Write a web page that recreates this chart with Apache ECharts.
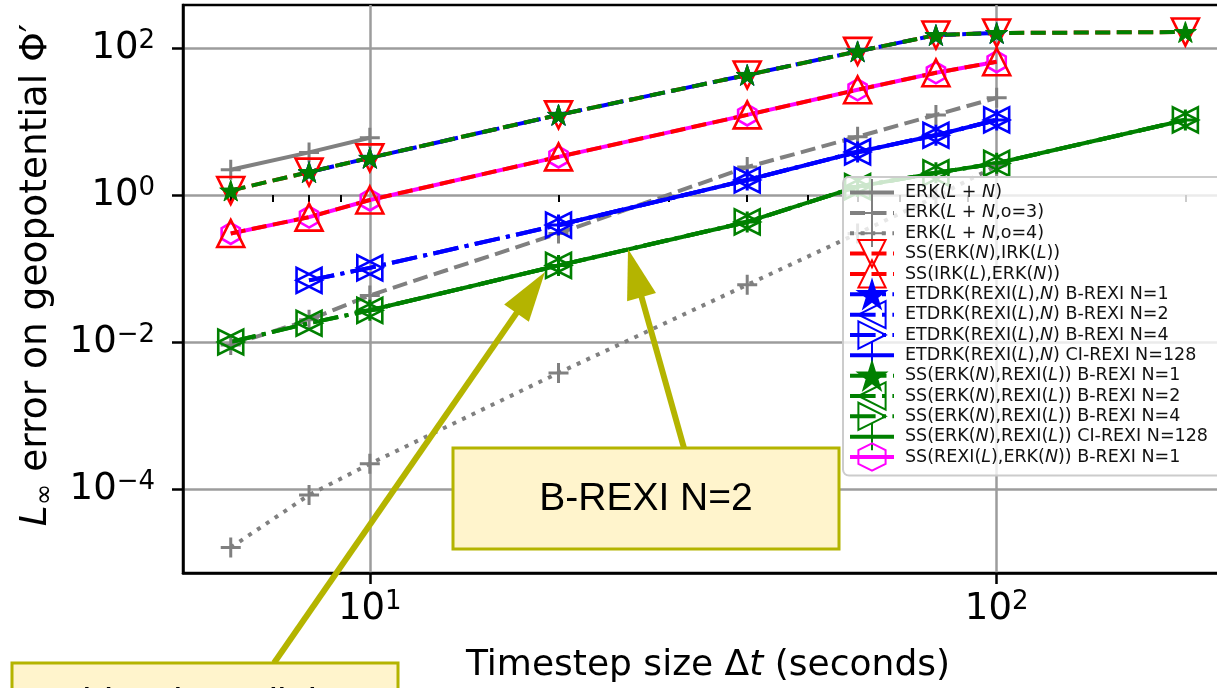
<!DOCTYPE html>
<html>
<head>
<meta charset="utf-8">
<script src="https://cdn.jsdelivr.net/npm/echarts@6/dist/echarts.min.js"></script>
<style>
  html, body { margin: 0; padding: 0; background: #ffffff; overflow: hidden; }
  #chart { width: 1217px; height: 688px; }
</style>
</head>
<body>
<div id="chart"></div>
<script>
// ---- Timestep sizes (seconds) ----
const dtErk      = [6, 8, 10];
const dtTo100    = [6, 8, 10, 20, 40, 60, 80, 100];
const dtAll      = [6, 8, 10, 20, 40, 60, 80, 100, 200];
const dtEtdrk    = [8, 10, 20, 40, 60, 80, 100];
const dtEtdrkCi  = [20, 40, 60, 80, 100];
const dtSsCi     = [10, 20, 40, 60, 80, 100, 200];

// ---- L_inf errors on geopotential ----
const errErk          = [2.2, 3.8, 6.0];
const errErkO3        = [0.0091, 0.020, 0.043, 0.30, 2.4, 6.2, 12.3, 21];
const errErkO4        = [1.6e-5, 8.3e-5, 2.2e-4, 3.8e-3, 0.060, 0.30, 0.95, 2.5];
const errSsErkIrk     = [1.15, 2.05, 3.2, 12.3, 43, 90, 150, 160, 165];
const errSsIrkErk     = [0.30, 0.50, 0.855, 3.3, 12.3, 27, 46, 65];
const errEtdrkN1      = [2.05, 3.2, 12.3, 43, 90, 150, 160];
const errEtdrkN2      = [0.069, 0.102, 0.39, 1.6, 3.85, 6.5, 10.5];
const errEtdrkN4      = [0.069, 0.102, 0.39, 1.6, 3.85, 6.5, 10.5];
const errEtdrkCi      = [0.39, 1.6, 3.85, 6.5, 10.5];
const errSsRexiN1     = [1.15, 2.05, 3.2, 12.3, 43, 90, 150, 160, 165];
const errSsRexiN2     = [0.0100, 0.018, 0.027, 0.11, 0.43, 1.3, 2.0, 2.7, 10.5];
const errSsRexiN4     = [0.0100, 0.018, 0.027, 0.11, 0.43, 1.3, 2.0, 2.7, 10.5];
const errSsRexiCi     = [0.027, 0.11, 0.43, 1.3, 2.0, 2.7, 10.5];
const errSsRexiErkN1  = [0.30, 0.50, 0.855, 3.3, 12.3, 27, 46, 65];

// ---- Axis ticks (decade exponents) ----
const xMajorExp = [1, 2];
const xMinorDt  = [6, 7, 8, 9, 20, 30, 40, 50, 60, 70, 80, 90, 200];
const yMajorExp = [-4, -2, 0, 2];

// Plot extents in log10 units
const xLo = 0.702, xHi = 2.377;
const yLo = -5.143, yHi = 2.585;

const FONT = 'DejaVu Sans';
const GRAY = '#808080', RED = '#ff0000', BLUE = '#0000ff', GREEN = '#008000', MAGENTA = '#ff00ff';
const NONE = 'rgba(0,0,0,0)';

const DASHED = [15, 6.5];
const DASHDOT = [25.6, 6.4, 4, 6.4];
const DOTTED = [4, 6.6];

// Marker outlines
function polyPath(n, rOuter, rInner, startDeg) {
  const pts = [];
  const steps = rInner ? n * 2 : n;
  for (let k = 0; k < steps; k++) {
    const r = rInner && (k % 2 === 1) ? rInner : rOuter;
    const a = (startDeg + k * 360 / steps) * Math.PI / 180;
    pts.push((r * Math.cos(a)).toFixed(4) + ',' + (-r * Math.sin(a)).toFixed(4));
  }
  return 'path://M' + pts.join('L') + 'Z';
}
const SYM_STAR = polyPath(5, 1, 0.381966, 90);
const SYM_HEX = polyPath(6, 1, 0, 90);
const SYM_PLUS = 'path://M10,0L10,20M0,10L20,10';
const SYM_DOWN = 'path://M-1,-1L1,-1L0,1Z';
const SYM_UP = 'path://M0,-1L1,1L-1,1Z';
const SYM_LEFT = 'path://M-1,0L1,-1L1,1Z';
const SYM_RIGHT = 'path://M1,0L-1,-1L-1,1Z';

function line(name, dts, errs, o) {
  return {
    type: 'line',
    name: name,
    data: dts.map((d, i) => [Math.log10(d), Math.log10(errs[i])]),
    symbol: o.symbol,
    symbolSize: o.size,
    symbolKeepAspect: true,
    showSymbol: true,
    lineStyle: { color: o.color, width: 4, type: o.dash || 'solid', cap: 'butt' },
    itemStyle: { color: o.fill, borderColor: o.color, borderWidth: o.bw || 2.6 },
    emphasis: { disabled: true },
    silent: true,
    z: 2
  };
}

const series = [
  line('ERK(L + N)', dtErk, errErk, { symbol: SYM_PLUS, size: 20, color: GRAY, fill: GRAY, bw: 3 }),
  line('ERK(L + N,o=3)', dtTo100, errErkO3, { symbol: SYM_PLUS, size: 20, color: GRAY, fill: GRAY, dash: DASHED, bw: 3 }),
  line('ERK(L + N,o=4)', dtTo100, errErkO4, { symbol: SYM_PLUS, size: 20, color: GRAY, fill: GRAY, dash: DOTTED, bw: 3 }),
  line('SS(ERK(N),IRK(L))', dtAll, errSsErkIrk, { symbol: SYM_DOWN, size: 27, color: RED, fill: NONE, dash: DASHED }),
  line('SS(REXI(L),ERK(N)) B-REXI N=1', dtTo100, errSsRexiErkN1, { symbol: SYM_HEX, size: 21, color: MAGENTA, fill: NONE }),
  line('SS(IRK(L),ERK(N))', dtTo100, errSsIrkErk, { symbol: SYM_UP, size: 27, color: RED, fill: NONE, dash: DASHED }),
  line('ETDRK(REXI(L),N) B-REXI N=1', dtEtdrk, errEtdrkN1, { symbol: SYM_STAR, size: 22, color: BLUE, fill: BLUE, dash: DASHDOT, bw: 1 }),
  line('ETDRK(REXI(L),N) B-REXI N=2', dtEtdrk, errEtdrkN2, { symbol: SYM_LEFT, size: 25, color: BLUE, fill: NONE, dash: DASHDOT }),
  line('ETDRK(REXI(L),N) B-REXI N=4', dtEtdrk, errEtdrkN4, { symbol: SYM_RIGHT, size: 25, color: BLUE, fill: NONE, dash: DASHDOT }),
  line('ETDRK(REXI(L),N) CI-REXI N=128', dtEtdrkCi, errEtdrkCi, { symbol: SYM_PLUS, size: 21, color: BLUE, fill: BLUE, bw: 3 }),
  line('SS(ERK(N),REXI(L)) B-REXI N=1', dtAll, errSsRexiN1, { symbol: SYM_STAR, size: 22, color: GREEN, fill: GREEN, dash: DASHED, bw: 1 }),
  line('SS(ERK(N),REXI(L)) B-REXI N=2', dtAll, errSsRexiN2, { symbol: SYM_LEFT, size: 25, color: GREEN, fill: NONE, dash: DASHDOT }),
  line('SS(ERK(N),REXI(L)) B-REXI N=4', dtAll, errSsRexiN4, { symbol: SYM_RIGHT, size: 25, color: GREEN, fill: NONE, dash: DASHDOT }),
  line('SS(ERK(N),REXI(L)) CI-REXI N=128', dtSsCi, errSsRexiCi, { symbol: SYM_PLUS, size: 21, color: GREEN, fill: GREEN, bw: 3 })
];

const legendOrder = [
  'ERK(L + N)', 'ERK(L + N,o=3)', 'ERK(L + N,o=4)',
  'SS(ERK(N),IRK(L))', 'SS(IRK(L),ERK(N))',
  'ETDRK(REXI(L),N) B-REXI N=1', 'ETDRK(REXI(L),N) B-REXI N=2',
  'ETDRK(REXI(L),N) B-REXI N=4', 'ETDRK(REXI(L),N) CI-REXI N=128',
  'SS(ERK(N),REXI(L)) B-REXI N=1', 'SS(ERK(N),REXI(L)) B-REXI N=2',
  'SS(ERK(N),REXI(L)) B-REXI N=4', 'SS(ERK(N),REXI(L)) CI-REXI N=128',
  'SS(REXI(L),ERK(N)) B-REXI N=1'
];

// Power-of-ten tick label with raised exponent
function powLabel(v) {
  const e = v < 0 ? '\u2212' + (-v) : String(v);
  return '{b|10}{e|' + e + '}';
}
const tickRich = {
  b: { fontFamily: FONT, fontSize: 37, color: '#000', lineHeight: 40 },
  e: { fontFamily: FONT, fontSize: 26, color: '#000', lineHeight: 28, verticalAlign: 'top' }
};

// Annotation callouts
const OLIVE = '#b4b400';
const BOXFILL = '#fff4cc';
function arrow(x0, y0, x1, y1) {
  const dx = x1 - x0, dy = y1 - y0, L = Math.hypot(dx, dy);
  const ux = dx / L, uy = dy / L, hl = 50, hw = 15;
  const bx = x1 - ux * hl, by = y1 - uy * hl, px = -uy, py = ux;
  return [
    { type: 'line', z: 99, silent: true,
      shape: { x1: x0, y1: y0, x2: bx + ux * 3, y2: by + uy * 3 },
      style: { stroke: OLIVE, lineWidth: 6 } },
    { type: 'polygon', z: 99, silent: true,
      shape: { points: [[x1, y1], [bx + px * hw, by + py * hw], [bx - px * hw, by - py * hw]] },
      style: { fill: OLIVE } }
  ];
}

const chart = echarts.init(document.getElementById('chart'), null, { renderer: 'canvas' });
chart.setOption({
  animation: false,
  backgroundColor: '#ffffff',
  textStyle: { fontFamily: FONT },
  grid: {
    left: 183, top: 5, width: 1050, height: 568,
    outerBoundsMode: 'none', containLabel: false,
    show: true, borderColor: '#000', borderWidth: 2.5, backgroundColor: 'transparent'
  },
  xAxis: [
    {
      type: 'value', min: xLo, max: xHi, position: 'bottom',
      axisLine: { show: true, onZero: false, lineStyle: { color: '#000', width: 2.5 } },
      axisTick: { show: true, customValues: xMajorExp, length: 11, lineStyle: { color: '#000', width: 2.5 } },
      axisLabel: { show: true, customValues: xMajorExp, formatter: powLabel, rich: tickRich, margin: 16 },
      splitLine: { show: true, lineStyle: { color: '#9c9c9c', width: 2.5 } },
      name: 'Timestep size \u0394{it|t} (seconds)',
      nameLocation: 'middle', nameGap: 75,
      nameTextStyle: {
        fontFamily: FONT, fontSize: 36, color: '#000', verticalAlign: 'top',
        rich: { it: { fontFamily: FONT, fontSize: 36, fontStyle: 'italic', color: '#000' } }
      }
    },
    {
      type: 'value', min: xLo, max: xHi, position: 'bottom',
      axisLine: { show: false },
      axisTick: { show: true, customValues: xMinorDt.map(d => Math.log10(d)), length: 7, lineStyle: { color: '#000', width: 2 } },
      axisLabel: { show: false },
      splitLine: { show: false }
    }
  ],
  yAxis: {
    type: 'value', min: yLo, max: yHi,
    axisLine: { show: true, onZero: false, lineStyle: { color: '#000', width: 2.5 } },
    axisTick: { show: true, customValues: yMajorExp, length: 11, lineStyle: { color: '#000', width: 2.5 } },
    axisLabel: { show: true, customValues: yMajorExp, formatter: powLabel, rich: tickRich, margin: 28 },
    splitLine: { show: true, lineStyle: { color: '#9c9c9c', width: 2.5 } },
    name: '{i|L}{s|\u221e}{n| error on geopotential \u03a6\u2032}',
    nameLocation: 'middle', nameRotate: 90, nameGap: 121,
    nameTextStyle: {
      fontFamily: FONT, fontSize: 37.5, color: '#000', padding: [0, 0, 0, 28],
      rich: {
        i: { fontFamily: FONT, fontSize: 37.5, fontStyle: 'italic', color: '#000', lineHeight: 45 },
        s: { fontFamily: FONT, fontSize: 26, color: '#000', lineHeight: 26, verticalAlign: 'bottom' },
        n: { fontFamily: FONT, fontSize: 37.5, color: '#000', lineHeight: 45 }
      }
    }
  },
  legend: {
    left: 843, top: 177, orient: 'vertical',
    data: legendOrder,
    selectedMode: false,
    itemWidth: 44, itemHeight: 34, itemGap: -8.86,
    padding: [1, 60, 4, 5],
    backgroundColor: 'rgba(255,255,255,0.8)',
    borderColor: '#cccccc', borderWidth: 2, borderRadius: 6,
    lineStyle: { width: 4 },
    formatter: name => name.replace(/([(,]|\+ )([LN])(?=[),\s])/g, '$1{i|$2}'),
    textStyle: {
      fontFamily: FONT, fontSize: 17.5, color: '#111', padding: [0, 0, 0, 6],
      rich: { i: { fontFamily: FONT, fontSize: 17.5, fontStyle: 'italic', color: '#111' } }
    }
  },
  series: series,
  graphic: [
    { type: 'rect', z: 100, silent: true,
      shape: { x: 453, y: 448, width: 386, height: 101 },
      style: { fill: BOXFILL, stroke: OLIVE, lineWidth: 3 } },
    { type: 'text', z: 101, silent: true, x: 646, y: 499,
      style: { text: 'B-REXI N=2', fontFamily: 'Liberation Sans', fontSize: 39, fill: '#000',
               align: 'center', verticalAlign: 'middle' } },
    { type: 'rect', z: 100, silent: true,
      shape: { x: 12, y: 663, width: 386, height: 120 },
      style: { fill: BOXFILL, stroke: OLIVE, lineWidth: 3 } },
    { type: 'text', z: 101, silent: true, x: 205, y: 682,
      style: { text: 'Mid-order splitting\nB-REXI N=1', fontFamily: 'Liberation Sans', fontSize: 39, fill: '#000',
               align: 'center', verticalAlign: 'top', lineHeight: 45 } },
    ...arrow(274, 663, 545, 272),
    ...arrow(684, 448, 628, 249)
  ]
});
</script>
</body>
</html>
